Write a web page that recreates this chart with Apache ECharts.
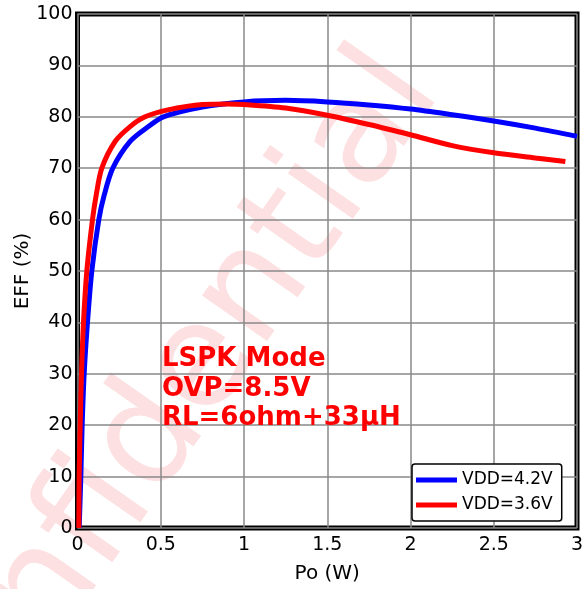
<!DOCTYPE html>
<html>
<head>
<meta charset="utf-8">
<script src="https://cdn.jsdelivr.net/npm/echarts@6/dist/echarts.min.js"></script>
<style>
html,body{margin:0;padding:0;background:#fff;}
#c{width:588px;height:589px;}
</style>
</head>
<body>
<div id="c"></div>
<script>
// Data: [Po (W), EFF (%)]
const vdd42 = [[0.01,0],[0.02,10],[0.028,20],[0.04,30],[0.06,40],[0.086,50],[0.128,60],[0.16,64.7],[0.212,70],[0.316,75.2],[0.426,78.1],[0.516,80],[0.75,81.9],[1.0,82.9],[1.25,83.2],[1.5,82.9],[1.75,82.3],[2.0,81.5],[2.25,80.4],[2.5,79.2],[2.75,77.8],[3.0,76.2]];
const vdd36 = [[0.008,0],[0.01,10],[0.016,20],[0.024,30],[0.036,40],[0.056,50],[0.09,60],[0.112,64.7],[0.146,70],[0.226,75.2],[0.316,78.1],[0.406,80],[0.536,81.3],[0.75,82.4],[0.9,82.5],[1.0,82.4],[1.25,81.7],[1.5,80.3],[1.75,78.5],[2.0,76.5],[2.25,74.4],[2.5,73.0],[2.75,72.0],[2.93,71.3]];
const seriesNames = ['VDD=4.2V','VDD=3.6V'];
const noteLines = ['LSPK Mode','OVP=8.5V','RL=6ohm+33μH'];
const watermarkText = 'Confidential';

const chart = echarts.init(document.getElementById('c'), null, {renderer:'canvas'});
const font = 'DejaVu Sans';
const option = {
  backgroundColor:'#fff',
  animation:false,
  textStyle:{fontFamily:font},
  grid:{left:77.5,right:11,top:14,bottom:60,show:true,borderColor:'#000',borderWidth:5,backgroundColor:'transparent'},
  xAxis:{
    type:'value',min:0,max:3,interval:0.5,
    name:'Po (W)',nameLocation:'middle',nameGap:36,nameMoveOverlap:false,
    nameTextStyle:{fontSize:20,color:'#000',fontFamily:font},
    axisLine:{show:false},axisTick:{show:false},
    axisLabel:{fontSize:19,color:'#000',margin:8,fontFamily:font},
    splitLine:{show:true,lineStyle:{color:'#888',width:1.5}}
  },
  yAxis:{
    type:'value',min:0,max:100,interval:10,
    name:'EFF (%)',nameLocation:'middle',nameGap:45,nameMoveOverlap:false,
    nameTextStyle:{fontSize:20,color:'#000',fontFamily:font},
    axisLine:{show:false},axisTick:{show:false},
    axisLabel:{fontSize:19,color:'#000',margin:5,fontFamily:font},
    splitLine:{show:true,lineStyle:{color:'#888',width:1.5}}
  },
  legend:{
    orient:'vertical',left:412,top:464,
    data:seriesNames,
    icon:'rect',itemWidth:41,itemHeight:5,itemGap:5,itemTextGap:18,
    padding:[6,9,6,4],
    backgroundColor:'#fff',borderColor:'#000',borderWidth:1.5,borderRadius:3,
    textStyle:{fontSize:17,color:'#000',lineHeight:20,fontFamily:font}
  },
  graphic:[
    {type:'text',x:161,y:427,rotation:55*Math.PI/180,z:-10,silent:true,
     style:{text:watermarkText,fontSize:145,fontFamily:font,fill:'#fde0e1',align:'center',verticalAlign:'middle'}},
    {type:'text',x:162,y:359.5,z:100,style:{text:noteLines[0],fontSize:26,fontWeight:'bold',fontFamily:font,fill:'#ff0000',align:'left',verticalAlign:'middle'}},
    {type:'text',x:162,y:389,z:100,style:{text:noteLines[1],fontSize:26,fontWeight:'bold',fontFamily:font,fill:'#ff0000',align:'left',verticalAlign:'middle'}},
    {type:'text',x:162,y:418.5,z:100,style:{text:noteLines[2],fontSize:26,fontWeight:'bold',fontFamily:font,fill:'#ff0000',align:'left',verticalAlign:'middle'}}
  ],
  series:[
    {name:seriesNames[0],type:'line',data:vdd42,showSymbol:false,smooth:0.3,
     lineStyle:{color:'#0000ff',width:5},itemStyle:{color:'#0000ff'},z:3},
    {name:seriesNames[1],type:'line',data:vdd36,showSymbol:false,smooth:0.3,
     lineStyle:{color:'#ff0000',width:5},itemStyle:{color:'#ff0000'},z:4}
  ]
};
chart.setOption(option);
</script>
</body>
</html>
